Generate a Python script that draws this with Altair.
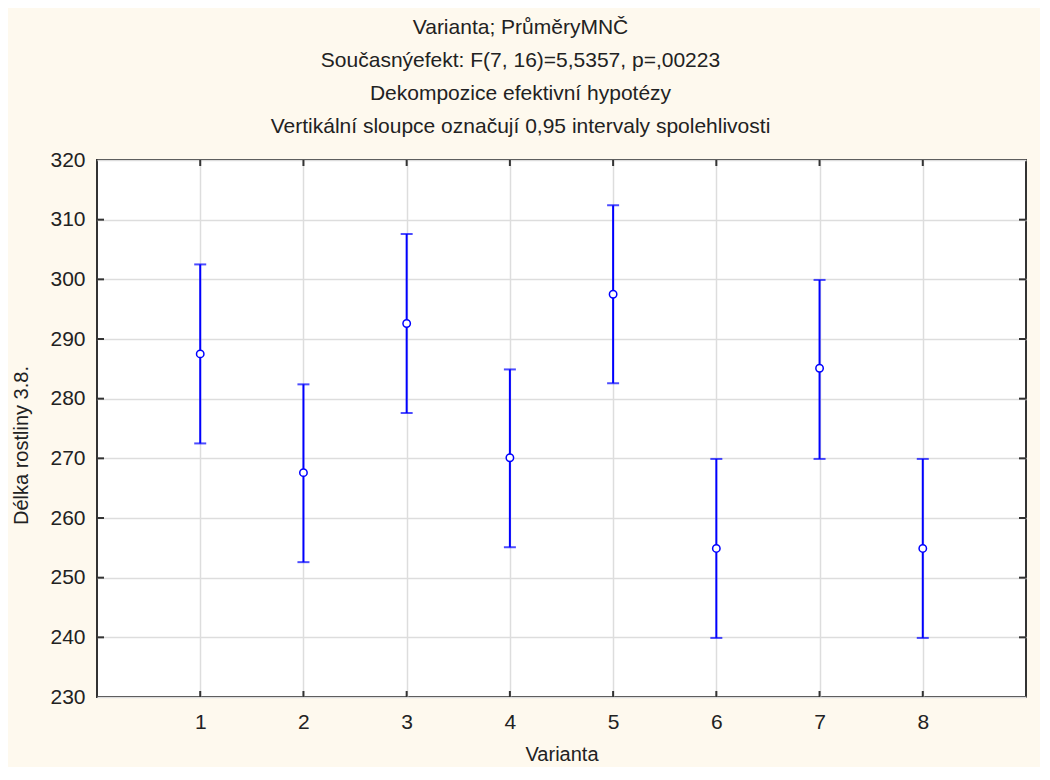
import altair as alt
import pandas as pd

varianta = [1, 2, 3, 4, 5, 6, 7, 8]
prumer = [287.5, 267.6, 292.6, 270.1, 297.5, 254.9, 285.1, 254.9]
dolni = [272.5, 252.6, 277.6, 255.1, 282.6, 239.9, 269.9, 239.9]
horni = [302.5, 282.4, 307.6, 284.9, 312.4, 269.9, 299.9, 269.9]

x_ticks = [1, 2, 3, 4, 5, 6, 7, 8]
y_ticks = [230, 240, 250, 260, 270, 280, 290, 300, 310, 320]

title_lines = [
    "Varianta; PrůměryMNČ",
    "Současnýefekt: F(7, 16)=5,5357, p=,00223",
    "Dekompozice efektivní hypotézy",
    "Vertikální sloupce označují 0,95 intervaly spolehlivosti",
]

df = pd.DataFrame({"Varianta": varianta, "m": prumer, "lo": dolni, "hi": horni})
ydf = pd.DataFrame({"v": y_ticks[1:-1]})
xdf = pd.DataFrame({"v": x_ticks})

BLUE = "#0000ff"
FONT = "Liberation Sans"

xs = alt.Scale(domain=[0, 9], nice=False, zero=False)
ys = alt.Scale(domain=[230, 320], nice=False, zero=False)

xax = alt.Axis(values=x_ticks, format="d", title="Varianta", grid=True, labelPadding=14, titlePadding=12)
yax = alt.Axis(values=y_ticks, format="d", title="Délka rostliny 3.8.", grid=True, labelPadding=12,
               titlePadding=18, titleY=285)

base = alt.Chart(df)

rules = base.mark_rule(color=BLUE, strokeWidth=2).encode(
    x=alt.X("Varianta:Q", scale=xs, axis=xax),
    y=alt.Y("lo:Q", scale=ys, axis=yax),
    y2="hi:Q",
)
cap_lo = base.mark_tick(color=BLUE, thickness=2, size=12, orient="horizontal").encode(
    x=alt.X("Varianta:Q", scale=xs), y=alt.Y("lo:Q", scale=ys)
)
cap_hi = base.mark_tick(color=BLUE, thickness=2, size=12, orient="horizontal").encode(
    x=alt.X("Varianta:Q", scale=xs), y=alt.Y("hi:Q", scale=ys)
)
pts = base.mark_point(shape="circle", filled=True, fill="white", stroke=BLUE, strokeWidth=1.5, size=55, opacity=1).encode(
    x=alt.X("Varianta:Q", scale=xs), y=alt.Y("m:Q", scale=ys)
)

TC = "#333333"
yt_left = alt.Chart(ydf).mark_rule(color=TC, strokeWidth=2).encode(
    y=alt.Y("v:Q", scale=ys), x=alt.value(0), x2=alt.value(7)
)
yt_right = alt.Chart(ydf).mark_rule(color=TC, strokeWidth=2).encode(
    y=alt.Y("v:Q", scale=ys), x=alt.value(922), x2=alt.value(929)
)
xt_bot = alt.Chart(xdf).mark_rule(color=TC, strokeWidth=2).encode(
    x=alt.X("v:Q", scale=xs), y=alt.value(537), y2=alt.value(531)
)
xt_top = alt.Chart(xdf).mark_rule(color=TC, strokeWidth=2).encode(
    x=alt.X("v:Q", scale=xs), y=alt.value(0), y2=alt.value(6)
)

chart = alt.layer(rules, cap_lo, cap_hi, pts, yt_left, yt_right, xt_bot, xt_top).properties(
    width=929,
    height=537,
    background="#fef9ee",
    autosize=alt.AutoSizeParams(type="none"),
    padding={"left": 89, "top": 152, "right": 14, "bottom": 70},
    title=alt.TitleParams(
        text=title_lines,
        fontSize=21,
        font=FONT,
        fontWeight="normal",
        color="#222222",
        lineHeight=33,
        anchor="middle",
        dx=-41,
        offset=12,
    ),
).configure_view(
    stroke="#333333", strokeWidth=2, fill="white"
).configure_axis(
    domain=False,
    ticks=False,
    gridColor="#dddddd",
    gridWidth=1.5,
    labelFont=FONT,
    labelFontSize=21,
    labelColor="#222222",
    titleFont=FONT,
    titleFontSize=20,
    titleFontWeight="normal",
    titleColor="#222222",
)

chart.save("out.html", embed_options={"renderer": "svg", "actions": False})
